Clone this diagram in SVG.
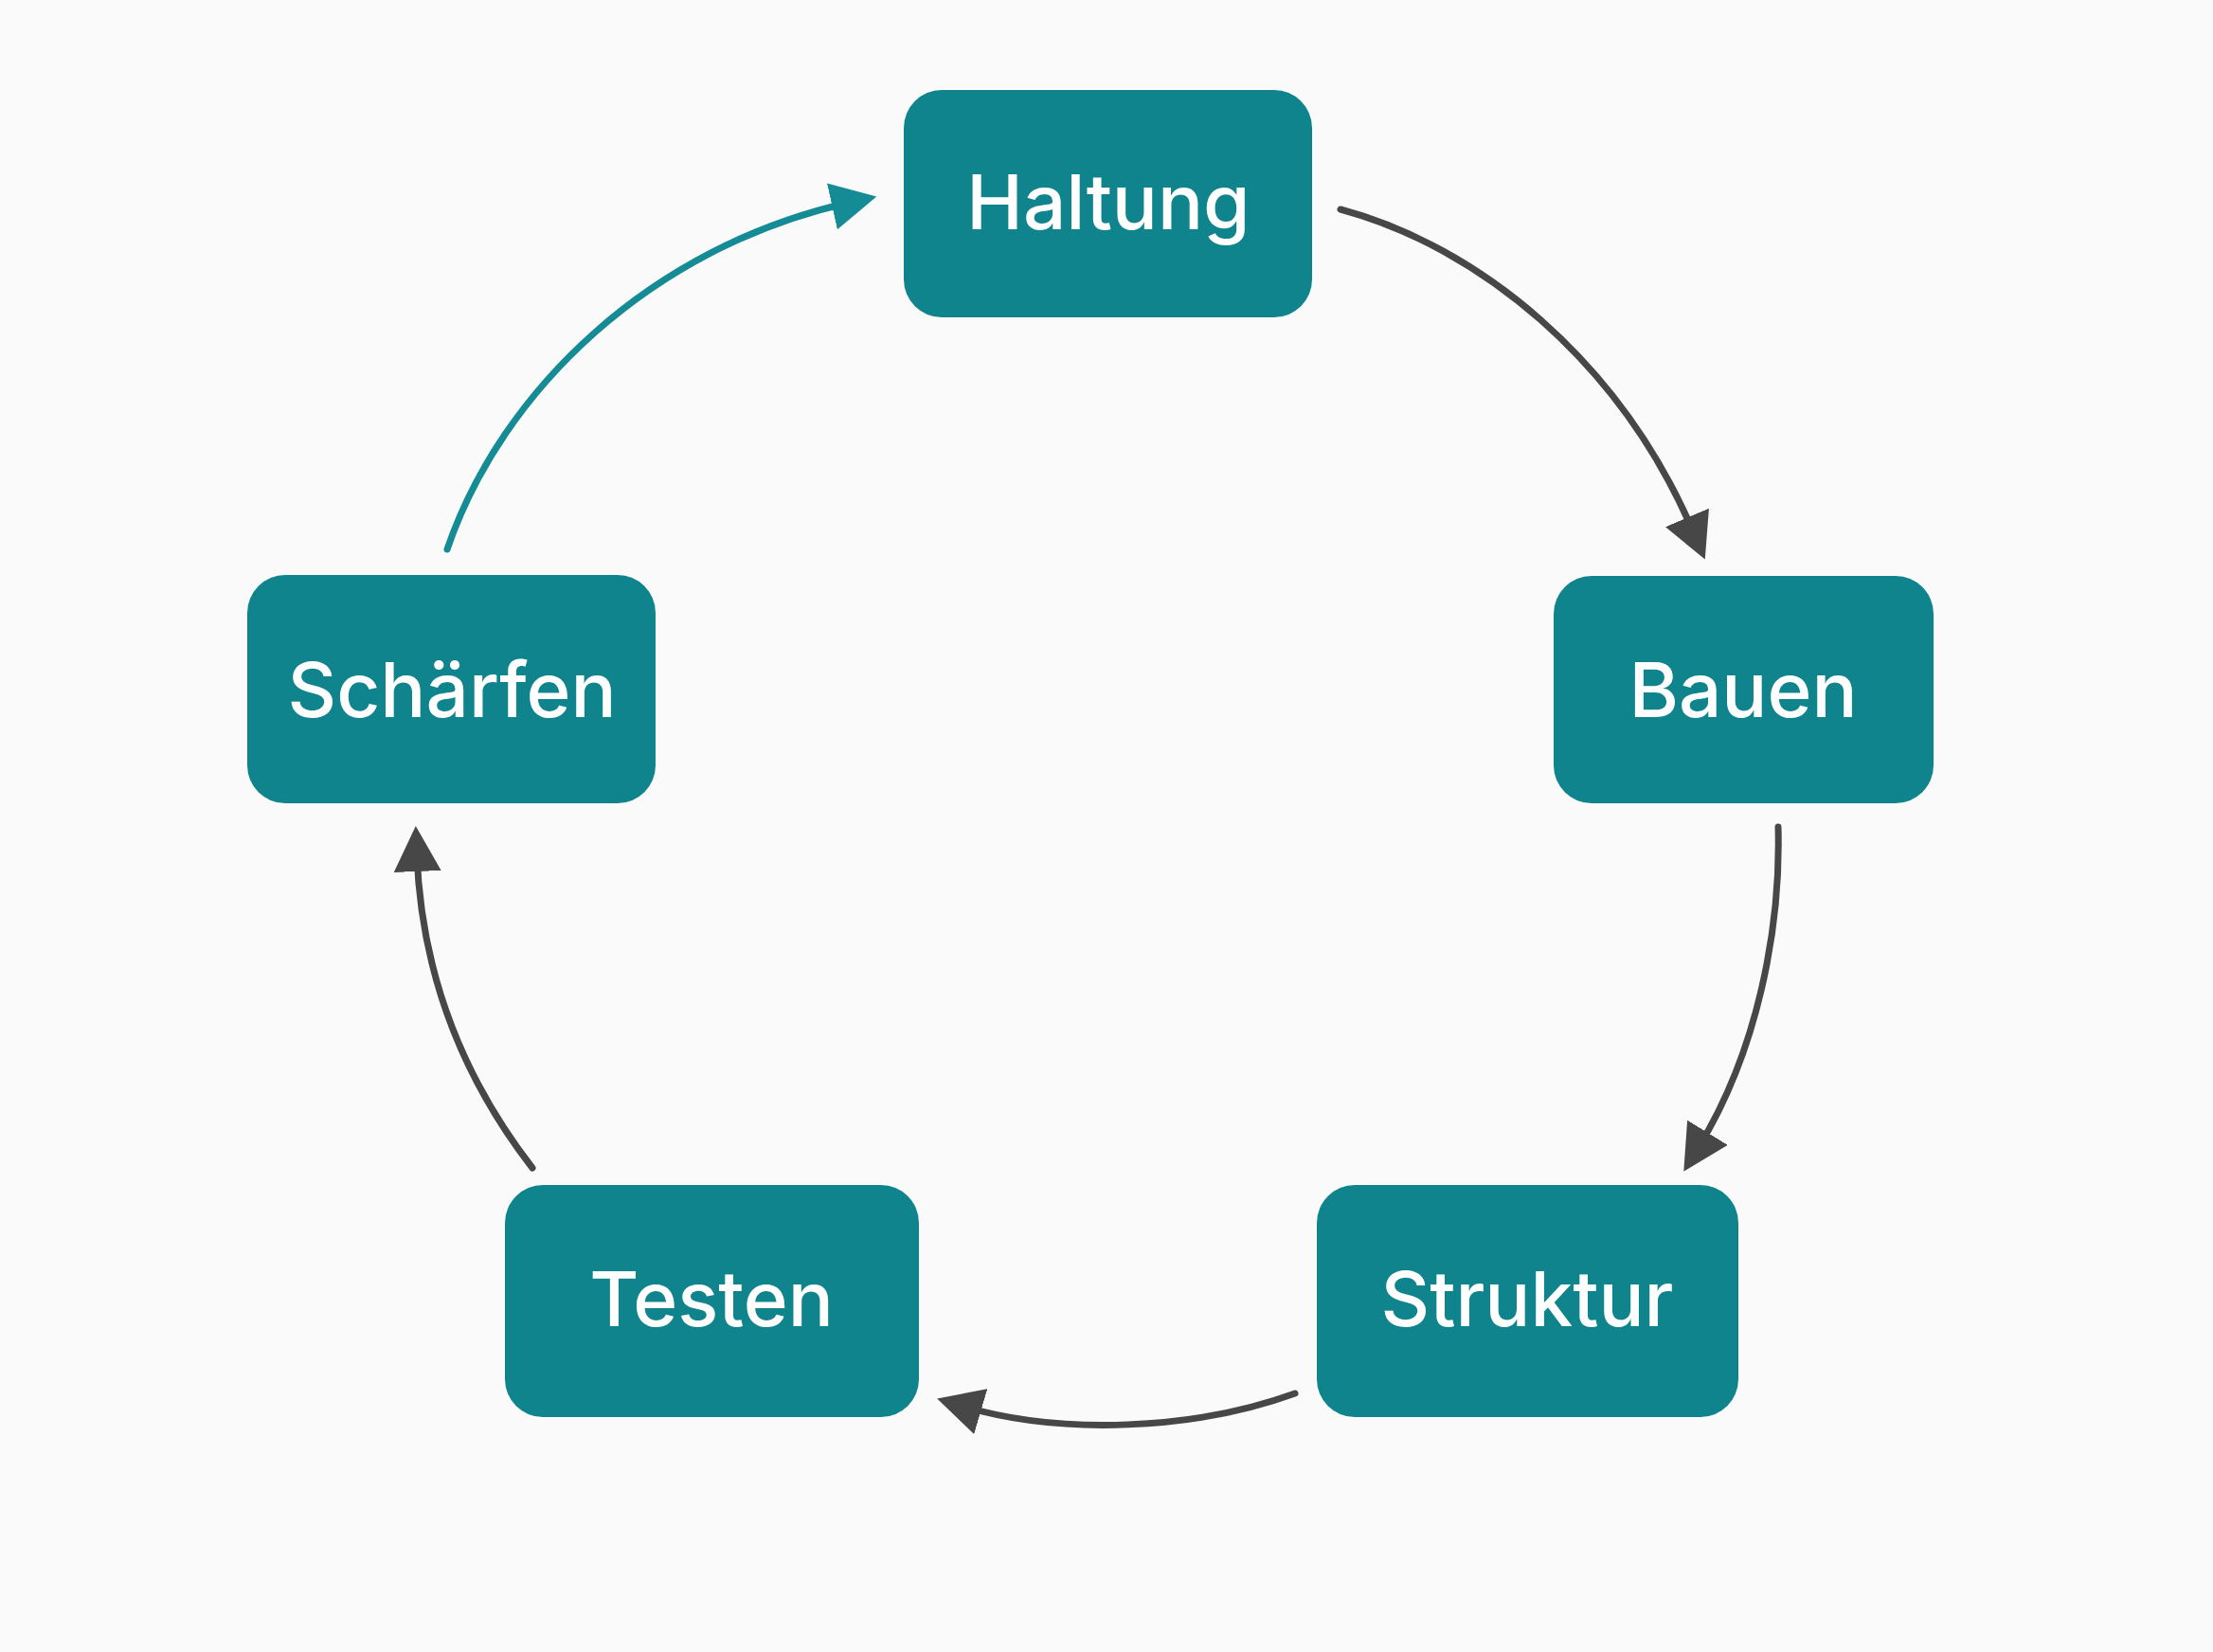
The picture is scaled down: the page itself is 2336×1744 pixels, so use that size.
<svg xmlns="http://www.w3.org/2000/svg" width="2336" height="1744" viewBox="0 0 2336 1744">
  <style>
    .box { fill: #0f848c; }
    .lbl { fill: #ffffff; font-family: Inter, "Noto Sans", "Liberation Sans", sans-serif; font-weight: 500; font-size: 80px; text-anchor: middle; }
    .c { fill: none; stroke-width: 7; stroke-linecap: round; }
    .gray { stroke: #474747; }
    .teal { stroke: #158b95; }
  </style>
  <defs>
    <marker id="ag" viewBox="0 0 48 50" refX="18" refY="25" markerWidth="48" markerHeight="50" markerUnits="userSpaceOnUse" orient="auto">
      <path d="M0,0 L48,25 L0,50 Z" fill="#474747"/>
    </marker>
    <marker id="at" viewBox="0 0 48 50" refX="18" refY="25" markerWidth="48" markerHeight="50" markerUnits="userSpaceOnUse" orient="auto">
      <path d="M0,0 L48,25 L0,50 Z" fill="#158b95"/>
    </marker>
  </defs>
  <rect width="2336" height="1744" fill="#fafafa"/>
  <g id="connectors">
    <path class="c gray" d="M1415,221 C1560,260 1710,380 1788,563" marker-end="url(#ag)"/>
    <path class="c gray" d="M1877,873 C1880,980 1855,1110 1793,1211" marker-end="url(#ag)"/>
    <path class="c gray" d="M1367,1471 C1260,1510 1120,1515 1018,1485" marker-end="url(#ag)"/>
    <path class="c gray" d="M562,1233 C490,1140 445,1030 440,902" marker-end="url(#ag)"/>
    <path class="c teal" d="M472,580 C530,410 690,260 896,214" marker-end="url(#at)"/>
  </g>
  <g id="node-haltung">
    <rect class="box" x="954" y="95" width="431" height="240" rx="40"/>
    <text class="lbl" x="1170" y="242">Haltung</text>
  </g>
  <g id="node-bauen">
    <rect class="box" x="1640" y="608" width="401" height="240" rx="40"/>
    <text class="lbl" x="1840" y="757">Bauen</text>
  </g>
  <g id="node-struktur">
    <rect class="box" x="1390" y="1251" width="445" height="245" rx="40"/>
    <text class="lbl" x="1612" y="1400">Struktur</text>
  </g>
  <g id="node-testen">
    <rect class="box" x="533" y="1251" width="437" height="245" rx="40"/>
    <text class="lbl" x="751" y="1400">Testen</text>
  </g>
  <g id="node-schaerfen">
    <rect class="box" x="261" y="607" width="431" height="241" rx="40"/>
    <text class="lbl" x="477" y="757">Schärfen</text>
  </g>
</svg>
